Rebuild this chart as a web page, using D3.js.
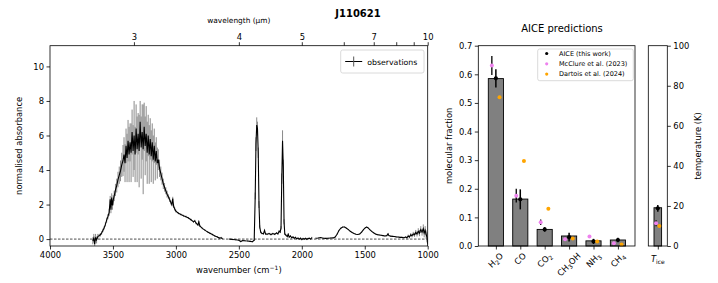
<!DOCTYPE html>
<html>
<head>
<meta charset="utf-8">
<script src="https://cdn.jsdelivr.net/npm/d3@7"></script>
<style>
  body { margin: 0; background: #fff; }
  svg text { font-family: "DejaVu Sans", sans-serif; fill: #000; }
</style>
</head>
<body>
<div id="chart"></div>
<script>
// ---- spectrum ----
const wavenumber = [
  3660,3652,3645,3638,3630,3620,3610,3600,3590,3580,
  3570,3560,3550,3540,3530,3522,3516,3510,3504,3498,
  3490,3480,3470,3460,3450,3440,3430,3420,3412,3404,
  3396,3388,3380,3372,3364,3356,3348,3340,3332,3324,
  3316,3308,3300,3292,3284,3276,3268,3260,3252,3244,
  3236,3228,3220,3212,3204,3196,3188,3180,3172,3164,
  3156,3148,3140,3130,3120,3110,3100,3090,3080,3070,
  3060,3050,3040,3032,3025,3018,3010,3000,2980,2960,
  2940,2920,2900,2880,2860,2850,2840,2825,2818,2810,
  2790,2770,2750,2730,2710,2690,2670,2655,2640,2630,
  2600,2575,2550,2525,2500,2485,2470,2450,2430,2410,
  2392,2378,2370,2364,2358,2352,2346,2340,2334,2326,
  2318,2305,2296,2288,2275,2260,2245,2230,2215,2200,
  2190,2180,2172,2165,2159,2153,2147,2141,2135,2125,
  2115,2108,2100,2090,2080,2070,2060,2050,2040,2030,
  2020,2010,2000,1990,1980,1970,1960,1950,1940,1930,
  1920,1905,1890,1870,1850,1830,1810,1790,1770,1750,
  1735,1720,1705,1690,1675,1660,1645,1630,1615,1600,
  1585,1570,1555,1540,1525,1510,1495,1485,1475,1460,
  1445,1430,1415,1400,1385,1370,1355,1340,1325,1315,
  1308,1295,1280,1265,1250,1235,1220,1205,1190,1175,
  1165,1155,1145,1135,1125,1115,1105,1095,1085,1075,
  1065,1055,1045,1035,1028,1020,1012,1005,1000
];
const absorbance = [
  -0.10,0.05,-0.30,0.10,-0.05,0.15,0.20,0.25,0.35,0.50,
  0.65,0.85,1.10,1.30,1.55,2.30,1.70,2.40,1.95,2.25,
  2.50,2.85,3.10,3.45,3.70,3.95,4.30,4.55,4.90,4.40,
  5.40,4.70,5.70,4.90,5.60,5.00,6.20,5.10,6.00,4.90,
  6.40,5.20,6.10,5.10,6.80,5.30,6.20,5.20,6.50,5.40,
  6.10,5.00,6.00,4.90,5.80,4.80,5.60,4.60,5.40,4.50,
  5.10,4.40,4.60,4.10,3.80,3.50,3.20,3.00,2.80,2.60,
  2.45,2.30,2.12,2.00,2.35,1.90,1.75,1.62,1.50,1.42,
  1.35,1.30,1.22,1.12,1.00,1.06,0.92,0.82,1.00,0.76,
  0.62,0.52,0.42,0.34,0.26,0.18,0.12,0.06,0.08,0.02,
  null,0.00,-0.02,-0.04,-0.07,-0.14,-0.08,-0.10,-0.11,-0.13,
  -0.15,-0.06,2.50,5.50,6.60,6.40,5.00,2.00,0.70,0.40,
  0.33,0.30,0.50,0.30,0.28,0.32,0.26,0.32,0.28,0.36,
  0.30,0.46,0.40,0.65,3.50,5.70,4.20,1.00,0.30,0.22,
  0.15,0.28,0.12,0.18,0.08,0.12,0.05,0.10,0.02,0.06,
  0.00,0.05,-0.02,0.03,0.00,0.04,-0.01,0.03,0.05,0.00,
  0.08,null,0.05,0.06,0.09,0.05,0.04,0.05,0.06,0.07,
  0.12,0.28,0.50,0.63,0.70,0.70,0.63,0.55,0.45,0.38,
  0.32,0.28,0.27,0.30,0.40,0.55,0.66,0.70,0.66,0.55,
  0.45,0.37,0.30,0.26,0.24,0.22,0.20,0.18,0.20,0.30,
  0.20,0.17,0.16,0.15,0.13,0.12,0.10,0.10,0.08,0.12,
  0.08,0.18,0.12,0.25,0.20,0.30,0.25,0.38,0.30,0.45,
  0.35,0.55,0.40,0.60,0.35,0.50,0.25,0.10,-0.30
];
const absError = [
  0.20,0.25,0.20,0.20,0.20,0.15,0.10,0.10,0.10,0.10,
  0.10,0.12,0.15,0.15,0.20,0.20,0.20,0.25,0.25,0.30,
  0.30,0.35,0.40,0.45,0.50,0.60,0.70,0.90,1.00,1.10,
  1.00,1.40,1.20,1.60,1.10,1.70,1.30,1.50,2.00,1.60,
  1.40,1.90,1.20,2.10,1.20,1.80,1.60,2.60,1.40,1.70,
  1.60,1.80,1.20,1.70,1.20,1.50,1.10,1.40,1.00,1.10,
  0.80,0.90,0.60,0.50,0.40,0.35,0.30,0.25,0.20,0.20,
  0.15,0.15,0.12,0.10,0.10,0.10,0.10,0.08,0.06,0.06,
  0.06,0.06,0.06,0.06,0.06,0.06,0.06,0.06,0.06,0.06,
  0.05,0.05,0.05,0.05,0.05,0.05,0.05,0.05,0.05,0.05,
  0.00,0.04,0.04,0.04,0.04,0.04,0.04,0.04,0.04,0.04,
  0.04,0.05,0.20,0.40,0.45,0.40,0.30,0.20,0.10,0.06,
  0.05,0.05,0.05,0.05,0.05,0.05,0.05,0.05,0.05,0.05,
  0.05,0.05,0.05,0.10,0.30,0.60,0.40,0.15,0.06,0.05,
  0.05,0.05,0.05,0.05,0.05,0.05,0.05,0.05,0.05,0.05,
  0.05,0.05,0.05,0.05,0.05,0.05,0.05,0.05,0.05,0.05,
  0.05,0.00,0.03,0.03,0.03,0.03,0.03,0.03,0.03,0.03,
  0.03,0.03,0.03,0.03,0.03,0.03,0.03,0.03,0.03,0.03,
  0.03,0.03,0.03,0.03,0.03,0.03,0.03,0.03,0.03,0.03,
  0.03,0.03,0.03,0.03,0.03,0.03,0.03,0.03,0.03,0.03,
  0.03,0.03,0.03,0.03,0.03,0.03,0.04,0.04,0.05,0.05,
  0.06,0.08,0.08,0.10,0.10,0.12,0.12,0.15,0.15,0.18,
  0.18,0.20,0.20,0.25,0.25,0.25,0.25,0.30,0.30
];
const wnTicks = [4000, 3500, 3000, 2500, 2000, 1500, 1000];
const absTicks = [0, 2, 4, 6, 8, 10];
const wavelengthTicks = [3, 4, 5, 6, 7, 8, 9, 10];
const wavelengthLabels = [3, 4, 5, 7, 10];

// ---- AICE predictions ----
const species = ["H2O", "CO", "CO2", "CH3OH", "NH3", "CH4"];
const barFraction = [0.585, 0.164, 0.058, 0.035, 0.018, 0.021];
const aiceFraction = [0.586, 0.163, 0.058, 0.031, 0.016, 0.021];
const aiceError = [0.032, 0.035, 0.008, 0.015, 0.009, 0.008];
const mcclureFraction = [0.631, 0.176, 0.083, 0.024, 0.033, 0.010];
const mcclureError = [0.033, 0.024, 0.010, 0, 0, 0];
const dartoisFraction = [0.520, 0.297, 0.130, 0.026, 0.016, 0.005];
const fractionTicks = [0, 0.1, 0.2, 0.3, 0.4, 0.5, 0.6, 0.7];

const tempBar = 19.1;
const tempAice = 18.8, tempAiceError = 1.7;
const tempMcclure = 11.3, tempMcclureError = 1.5;
const tempDartois = 10.0;
const tempTicks = [0, 20, 40, 60, 80, 100];

const fs = 8.4;
const svg = d3.select("#chart").append("svg")
    .attr("width", 718)
    .attr("height", 283);

// Title
svg.append("text")
    .attr("x", 358).attr("y", 17.3)
    .attr("text-anchor", "middle")
    .style("font-size", "10px").style("font-weight", "bold")
    .text("J110621");

// ================= Spectrum panel =================
const sp = { left: 50, right: 427.7, top: 45.7, bottom: 246 };
const x = d3.scaleLinear().domain([4000, 1000]).range([sp.left, sp.right]);
const y = d3.scaleLinear().domain([-0.4, 11.2]).range([sp.bottom, sp.top]);

const specData = wavenumber.map((w, i) => ({ w, a: absorbance[i], e: absError[i] }));

const specG = svg.append("g");
specG.append("defs").append("clipPath").attr("id", "specClip")
    .append("rect").attr("x", sp.left).attr("y", sp.top)
    .attr("width", sp.right - sp.left).attr("height", sp.bottom - sp.top);
const plotG = specG.append("g").attr("clip-path", "url(#specClip)");

// zero line
plotG.append("line")
    .attr("x1", sp.left).attr("x2", sp.right)
    .attr("y1", y(0)).attr("y2", y(0))
    .attr("stroke", "#000").attr("stroke-width", 0.7)
    .attr("stroke-dasharray", "2.5,1.5");

// error bars
plotG.selectAll(".err")
    .data(specData.filter(d => d.a !== null))
    .enter().append("line")
    .attr("x1", d => x(d.w)).attr("x2", d => x(d.w))
    .attr("y1", d => y(d.a - d.e)).attr("y2", d => y(d.a + d.e))
    .attr("stroke", "#8a8a8a").attr("stroke-width", 1);

// spectrum line
plotG.append("path")
    .datum(specData)
    .attr("fill", "none")
    .attr("stroke", "#000")
    .attr("stroke-width", 1.1)
    .attr("d", d3.line().defined(d => d.a !== null).x(d => x(d.w)).y(d => y(d.a)));

function styleAxis(g) {
    g.select(".domain").remove();
    g.selectAll(".tick line").attr("stroke", "#000").attr("stroke-width", 0.8);
    g.selectAll(".tick text").style("font-size", fs + "px").attr("fill", "#000");
}

svg.append("g")
    .attr("transform", `translate(0,${sp.bottom})`)
    .call(d3.axisBottom(x).tickValues(wnTicks).tickSize(3.5).tickPadding(2.5).tickFormat(d3.format("d")))
    .call(styleAxis);

svg.append("g")
    .attr("transform", `translate(${sp.left},0)`)
    .call(d3.axisLeft(y).tickValues(absTicks).tickSize(3.5).tickPadding(2.5))
    .call(styleAxis);

svg.append("g")
    .attr("transform", `translate(0,${sp.top})`)
    .call(d3.axisTop(x).tickValues(wavelengthTicks.map(l => 10000 / l)).tickSize(3.5).tickPadding(2.5)
        .tickFormat(w => {
            const l = Math.round(10000 / w);
            return wavelengthLabels.includes(l) ? l : "";
        }))
    .call(styleAxis);

svg.append("rect")
    .attr("x", sp.left).attr("y", sp.top)
    .attr("width", sp.right - sp.left).attr("height", sp.bottom - sp.top)
    .attr("fill", "none").attr("stroke", "#000").attr("stroke-width", 0.8);

svg.append("text")
    .attr("x", (sp.left + sp.right) / 2).attr("y", 273)
    .attr("text-anchor", "middle").style("font-size", fs + "px")
    .text("wavenumber (cm")
    .call(t => {
        t.append("tspan").attr("dy", -3).style("font-size", "6px").text("\u22121");
        t.append("tspan").attr("dy", 3).text(")");
    });

svg.append("text")
    .attr("x", (sp.left + sp.right) / 2).attr("y", 23)
    .attr("text-anchor", "middle").style("font-size", "7.4px")
    .text("wavelength (\u00b5m)");

svg.append("text")
    .attr("transform", `translate(22,${(sp.top + sp.bottom) / 2}) rotate(-90)`)
    .attr("text-anchor", "middle").style("font-size", fs + "px")
    .text("normalised absorbance");

// legend
const lg = svg.append("g").attr("transform", "translate(340.7,50)");
lg.append("rect")
    .attr("width", 83.3).attr("height", 23).attr("rx", 2)
    .attr("fill", "#fff").attr("fill-opacity", 0.8)
    .attr("stroke", "#d0d0d0").attr("stroke-width", 0.8);
lg.append("line").attr("x1", 4.5).attr("x2", 21.5).attr("y1", 11.5).attr("y2", 11.5)
    .attr("stroke", "#000").attr("stroke-width", 1);
lg.append("line").attr("x1", 13).attr("x2", 13).attr("y1", 6.5).attr("y2", 16.5)
    .attr("stroke", "#555").attr("stroke-width", 1);
lg.append("text").attr("x", 26.5).attr("y", 14.5).style("font-size", "7.8px").text("observations");

// ================= Bar panel =================
const bp = { left: 478.3, right: 635, top: 45.7, bottom: 246 };
const xb = d3.scaleLinear().domain([-0.72, 5.7]).range([bp.left, bp.right]);
const yb = d3.scaleLinear().domain([0, 0.7]).range([bp.bottom, bp.top]);
const barW = 0.62;
const offPink = -0.165, offOrange = 0.15;

svg.append("text")
    .attr("x", 562).attr("y", 32)
    .attr("text-anchor", "middle").style("font-size", "10px")
    .text("AICE predictions");

svg.append("g").selectAll("rect")
    .data(barFraction)
    .enter().append("rect")
    .attr("x", (d, i) => xb(i - barW / 2))
    .attr("width", xb(barW) - xb(0))
    .attr("y", d => yb(d))
    .attr("height", d => yb(0) - yb(d))
    .attr("fill", "#808080").attr("stroke", "#000").attr("stroke-width", 0.9);

// McClure error bars + points
svg.append("g").selectAll("line")
    .data(mcclureFraction)
    .enter().append("line")
    .attr("x1", (d, i) => xb(i + offPink)).attr("x2", (d, i) => xb(i + offPink))
    .attr("y1", (d, i) => yb(d - mcclureError[i])).attr("y2", (d, i) => yb(d + mcclureError[i]))
    .attr("stroke", "#000").attr("stroke-width", 1.3);
svg.append("g").selectAll("circle")
    .data(mcclureFraction)
    .enter().append("circle")
    .attr("cx", (d, i) => xb(i + offPink)).attr("cy", d => yb(d))
    .attr("r", 2).attr("fill", "violet");

// AICE error bars + points
svg.append("g").selectAll("line")
    .data(aiceFraction)
    .enter().append("line")
    .attr("x1", (d, i) => xb(i)).attr("x2", (d, i) => xb(i))
    .attr("y1", (d, i) => yb(d - aiceError[i])).attr("y2", (d, i) => yb(d + aiceError[i]))
    .attr("stroke", "#000").attr("stroke-width", 1.5);
svg.append("g").selectAll("circle")
    .data(aiceFraction)
    .enter().append("circle")
    .attr("cx", (d, i) => xb(i)).attr("cy", d => yb(d))
    .attr("r", 2.1).attr("fill", "#000");

// Dartois points
svg.append("g").selectAll("circle")
    .data(dartoisFraction)
    .enter().append("circle")
    .attr("cx", (d, i) => xb(i + offOrange)).attr("cy", d => yb(d))
    .attr("r", 2).attr("fill", "orange");

svg.append("g")
    .attr("transform", `translate(${bp.left},0)`)
    .call(d3.axisLeft(yb).tickValues(fractionTicks).tickSize(3.5).tickPadding(2.5).tickFormat(d3.format(".1f")))
    .call(styleAxis);

svg.append("g")
    .attr("transform", `translate(0,${bp.bottom})`)
    .call(d3.axisBottom(xb).tickValues(d3.range(species.length)).tickSize(3.5).tickFormat(""))
    .call(styleAxis);

svg.append("rect")
    .attr("x", bp.left).attr("y", bp.top)
    .attr("width", bp.right - bp.left).attr("height", bp.bottom - bp.top)
    .attr("fill", "none").attr("stroke", "#000").attr("stroke-width", 0.8);

// rotated chemical labels, digits as subscripts
const labelTop = 251.5;
species.forEach((s, i) => {
    const t = svg.append("text")
        .attr("text-anchor", "middle")
        .style("font-size", fs + "px");
    let sub = false;
    s.match(/\d+|\D+/g).forEach(part => {
        const isDigit = /\d/.test(part);
        const ts = t.append("tspan").text(part);
        if (isDigit) { ts.style("font-size", "6px").attr("dy", 2); sub = true; }
        else if (sub) { ts.attr("dy", -2); sub = false; }
    });
    const len = t.node().getComputedTextLength();
    const half = (len + fs) * Math.SQRT1_2 / 2;
    t.attr("transform", `translate(${xb(i)},${labelTop + half}) rotate(-45)`)
        .attr("dy", "0.32em");
});

svg.append("text")
    .attr("transform", `translate(452,${(bp.top + bp.bottom) / 2}) rotate(-90)`)
    .attr("text-anchor", "middle").style("font-size", fs + "px")
    .text("molecular fraction");

// legend
const lb = svg.append("g").attr("transform", "translate(537.7,49)");
lb.append("rect")
    .attr("width", 95.6).attr("height", 31.7).attr("rx", 2)
    .attr("fill", "#fff").attr("fill-opacity", 0.8)
    .attr("stroke", "#d0d0d0").attr("stroke-width", 0.8);
const legendItems = [
    { label: "AICE (this work)", color: "#000" },
    { label: "McClure et al. (2023)", color: "violet" },
    { label: "Dartois et al. (2024)", color: "orange" }
];
legendItems.forEach((d, i) => {
    lb.append("circle").attr("cx", 9).attr("cy", 4.5 + i * 10.3).attr("r", 1.6).attr("fill", d.color);
    lb.append("text").attr("x", 21.3).attr("y", 6.8 + i * 10.3)
        .style("font-size", "6.5px").text(d.label);
});

// ================= Temperature panel =================
const tp = { left: 648.3, right: 667.3, top: 45.7, bottom: 246 };
const xt = d3.scaleLinear().domain([-1, 1]).range([tp.left, tp.right]);
const yt = d3.scaleLinear().domain([0, 100]).range([tp.bottom, tp.top]);

svg.append("rect")
    .attr("x", xt(-0.4)).attr("width", xt(0.4) - xt(-0.4))
    .attr("y", yt(tempBar)).attr("height", yt(0) - yt(tempBar))
    .attr("fill", "#808080").attr("stroke", "#000").attr("stroke-width", 0.9);

svg.append("line")
    .attr("x1", xt(-0.18)).attr("x2", xt(-0.18))
    .attr("y1", yt(tempMcclure - tempMcclureError)).attr("y2", yt(tempMcclure + tempMcclureError))
    .attr("stroke", "#000").attr("stroke-width", 1.2);
svg.append("circle").attr("cx", xt(-0.18)).attr("cy", yt(tempMcclure)).attr("r", 2).attr("fill", "violet");
svg.append("line")
    .attr("x1", xt(0)).attr("x2", xt(0))
    .attr("y1", yt(tempAice - tempAiceError)).attr("y2", yt(tempAice + tempAiceError))
    .attr("stroke", "#000").attr("stroke-width", 1.5);
svg.append("circle").attr("cx", xt(0)).attr("cy", yt(tempAice)).attr("r", 2.1).attr("fill", "#000");
svg.append("circle").attr("cx", xt(0.16)).attr("cy", yt(tempDartois)).attr("r", 2).attr("fill", "orange");

svg.append("g")
    .attr("transform", `translate(${tp.right},0)`)
    .call(d3.axisRight(yt).tickValues(tempTicks).tickSize(3.5).tickPadding(2.5))
    .call(styleAxis);

svg.append("g")
    .attr("transform", `translate(0,${tp.bottom})`)
    .call(d3.axisBottom(xt).tickValues([0]).tickSize(3.5).tickFormat(""))
    .call(styleAxis);

svg.append("rect")
    .attr("x", tp.left).attr("y", tp.top)
    .attr("width", tp.right - tp.left).attr("height", tp.bottom - tp.top)
    .attr("fill", "none").attr("stroke", "#000").attr("stroke-width", 0.8);

svg.append("text")
    .attr("x", xt(0)).attr("y", 262)
    .attr("text-anchor", "middle").style("font-size", fs + "px")
    .call(t => {
        t.append("tspan").style("font-style", "italic").text("T");
        t.append("tspan").attr("dy", 2).style("font-size", "6px").text("ice");
    });

svg.append("text")
    .attr("transform", `translate(698,${(tp.top + tp.bottom) / 2}) rotate(-90)`)
    .attr("text-anchor", "middle").attr("dy", "0.35em").style("font-size", fs + "px")
    .text("temperature (K)");
</script>
</body>
</html>
